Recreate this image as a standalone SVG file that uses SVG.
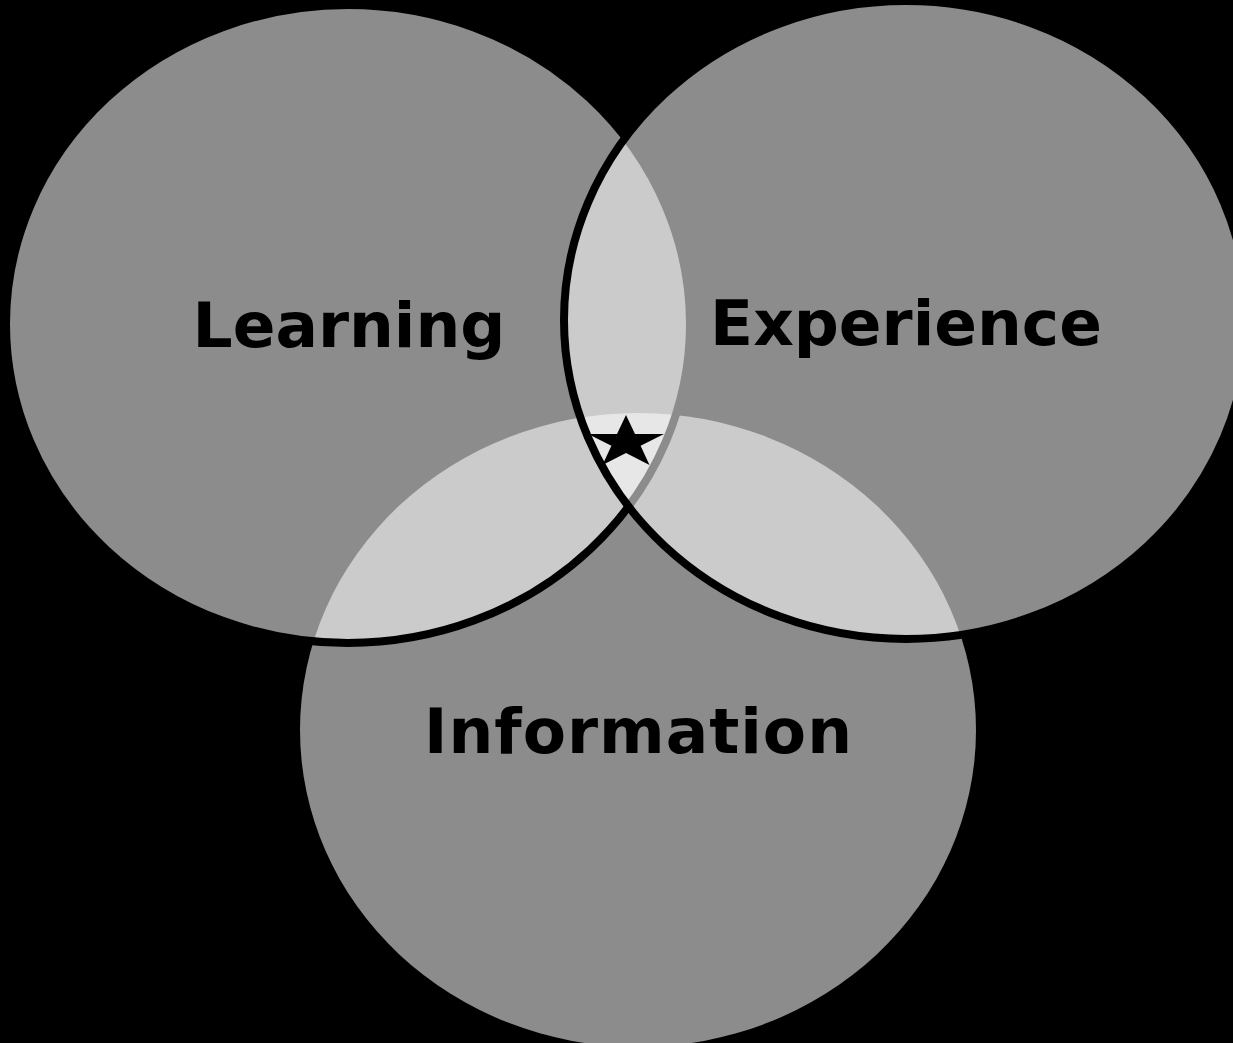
<svg xmlns="http://www.w3.org/2000/svg" width="1233" height="1043" viewBox="0 0 1233 1043">
<style>
.set{fill:#ffffff;fill-opacity:0.55}
.edge{stroke:#000000;stroke-width:8}
.lbl{font-family:"DejaVu Sans",Verdana,sans-serif;font-weight:bold;font-size:63px;fill:#000000;text-anchor:middle}
</style>
<rect x="0" y="0" width="1233" height="1043" fill="#000000"/>
<g id="information">
<ellipse class="set" cx="638" cy="730" rx="338" ry="317"/>
<text class="lbl" x="638" y="753" textLength="428" lengthAdjust="spacing">Information</text>
</g>
<g id="learning">
<ellipse class="set edge" cx="348" cy="324" rx="342" ry="319"/>
<text class="lbl" x="349" y="347">Learning</text>
</g>
<g id="experience">
<ellipse class="set edge" cx="906" cy="320" rx="342" ry="319"/>
<text class="lbl" x="906" y="345">Experience</text>
</g>
<g id="star">
<polygon fill="#000000" points="626,415 635,434.1 664,434.1 640.6,445.8 649.5,464.9 626,453.1 602.5,464.9 611.4,445.8 588,434.1 617,434.1"/>
</g>
</svg>
